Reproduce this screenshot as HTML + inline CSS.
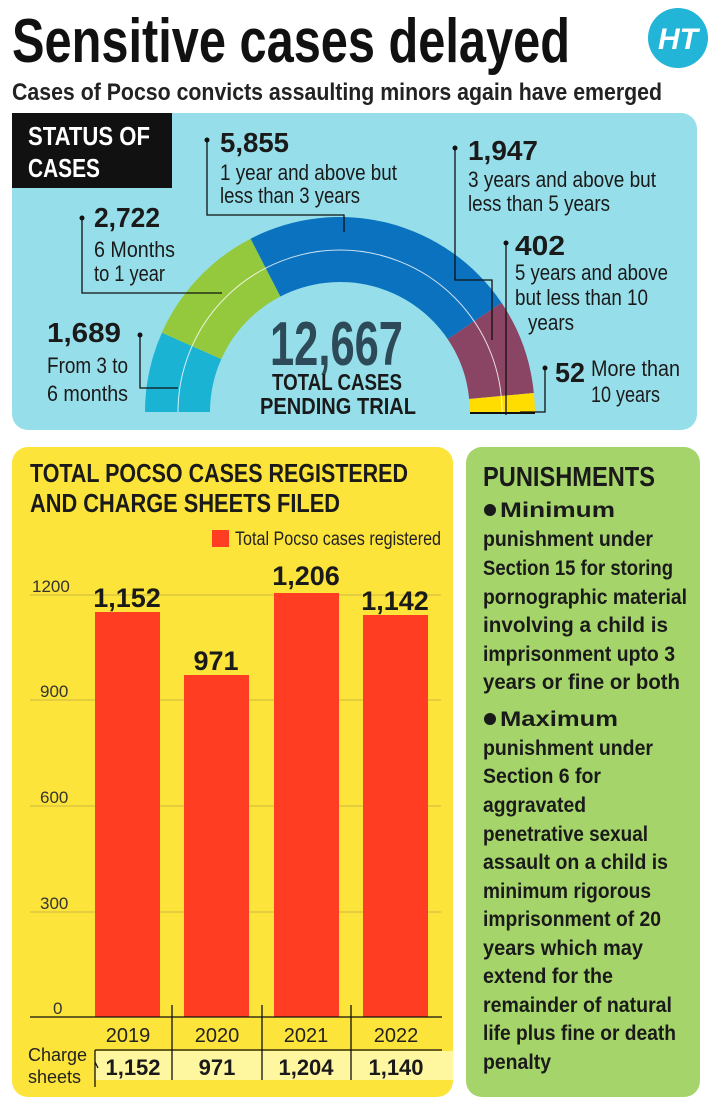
<!DOCTYPE html>
<html><head><meta charset="utf-8"><style>
html,body{margin:0;padding:0;background:#fff;}
svg{display:block;}
text{font-family:"Liberation Sans Narrow","Liberation Sans",sans-serif;}
.b{font-weight:bold;}
</style></head><body>
<svg width="709" height="1111" viewBox="0 0 709 1111" xmlns="http://www.w3.org/2000/svg">
<rect width="709" height="1111" fill="#fff"/>
<text x="12" y="62" class="b" font-size="62" textLength="558" lengthAdjust="spacingAndGlyphs" fill="#111">Sensitive cases delayed</text>
<text x="12" y="100" class="b" font-size="24" textLength="650" lengthAdjust="spacingAndGlyphs" fill="#222">Cases of Pocso convicts assaulting minors again have emerged</text>
<circle cx="678" cy="38" r="30" fill="#22b5d8"/>
<text x="678" y="49" text-anchor="middle" font-family="Liberation Serif,serif" font-style="italic" font-weight="bold" font-size="30" fill="#fff">HT</text>

<rect x="12" y="113" width="685" height="317" rx="16" fill="#96dfea"/>
<path d="M12 113 H172 V188 H12 Z" fill="#111"/>
<text x="28" y="145" class="b" font-size="26" textLength="122" lengthAdjust="spacingAndGlyphs" fill="#fff">STATUS OF</text>
<text x="28" y="177" class="b" font-size="26" textLength="72" lengthAdjust="spacingAndGlyphs" fill="#fff">CASES</text>

<g>
<path d="M145 412 A195 195 0 0 1 161.9 332.7 L221.3 359.1 A130 130 0 0 0 210 412 Z" fill="#1ab3d3"/>
<path d="M161.9 332.7 A195 195 0 0 1 250.6 238.7 L280.4 296.5 A130 130 0 0 0 221.3 359.1 Z" fill="#94c83d"/>
<path d="M250.6 238.7 A195 195 0 0 1 501.5 302.7 L447.7 339.1 A130 130 0 0 0 280.4 296.5 Z" fill="#0b72c0"/>
<path d="M501.5 302.7 A195 195 0 0 1 533.8 393 L469.2 399 A130 130 0 0 0 447.7 339.1 Z" fill="#8a4565"/>
<path d="M533.8 393 A195 195 0 0 1 535 412 L470 412 A130 130 0 0 0 469.2 399 Z" fill="#ffdd00"/>
<path d="M178 412 A162 162 0 0 1 502 412" fill="none" stroke="#fff" stroke-width="1" opacity="0.8"/>
<line x1="470" y1="413" x2="535" y2="413" stroke="#111" stroke-width="2"/>
</g>
<g stroke="#111" stroke-width="1.3" fill="none">
<path d="M207 140 V215 H344 V232"/>
<path d="M455 148 V280 H492 V340"/>
<path d="M506 243 V415"/>
<path d="M82 218 V293 H222"/>
<path d="M140 335 V388 H178"/>
<path d="M545 368 V412 H520"/>
</g>
<g fill="#111"><circle cx="207" cy="140" r="2.5"/><circle cx="455" cy="148" r="2.5"/><circle cx="506" cy="243" r="2.5"/><circle cx="82" cy="218" r="2.5"/><circle cx="140" cy="335" r="2.5"/><circle cx="545" cy="368" r="2.5"/></g>
<g fill="#1a1a1a">
<text x="220" y="152" class="b" font-size="28" textLength="69" lengthAdjust="spacingAndGlyphs">5,855</text>
<text x="220" y="180" font-size="22" textLength="177" lengthAdjust="spacingAndGlyphs">1 year and above but</text>
<text x="220" y="203" font-size="22" textLength="140" lengthAdjust="spacingAndGlyphs">less than 3 years</text>
<text x="468" y="160" class="b" font-size="28" textLength="70" lengthAdjust="spacingAndGlyphs">1,947</text>
<text x="468" y="187" font-size="22" textLength="188" lengthAdjust="spacingAndGlyphs">3 years and above but</text>
<text x="468" y="211" font-size="22" textLength="142" lengthAdjust="spacingAndGlyphs">less than 5 years</text>
<text x="515" y="255" class="b" font-size="28" textLength="50" lengthAdjust="spacingAndGlyphs">402</text>
<text x="515" y="280" font-size="22" textLength="153" lengthAdjust="spacingAndGlyphs">5 years and above</text>
<text x="515" y="305" font-size="22" textLength="133" lengthAdjust="spacingAndGlyphs">but less than 10</text>
<text x="528" y="330" font-size="22" textLength="46" lengthAdjust="spacingAndGlyphs">years</text>
<text x="94" y="227" class="b" font-size="28" textLength="66" lengthAdjust="spacingAndGlyphs">2,722</text>
<text x="94" y="257" font-size="22" textLength="81" lengthAdjust="spacingAndGlyphs">6 Months</text>
<text x="94" y="281" font-size="22" textLength="71" lengthAdjust="spacingAndGlyphs">to 1 year</text>
<text x="47" y="342" class="b" font-size="28" textLength="74" lengthAdjust="spacingAndGlyphs">1,689</text>
<text x="47" y="373" font-size="22" textLength="81" lengthAdjust="spacingAndGlyphs">From 3 to</text>
<text x="47" y="401" font-size="22" textLength="81" lengthAdjust="spacingAndGlyphs">6 months</text>
<text x="555" y="382" class="b" font-size="28" textLength="30" lengthAdjust="spacingAndGlyphs">52</text>
<text x="591" y="376" font-size="22" textLength="89" lengthAdjust="spacingAndGlyphs">More than</text>
<text x="591" y="402" font-size="22" textLength="69" lengthAdjust="spacingAndGlyphs">10 years</text>
<text x="270" y="365" class="b" font-size="62" textLength="133" lengthAdjust="spacingAndGlyphs" fill="#2c4a58">12,667</text>
<text x="272" y="390" class="b" font-size="23" textLength="130" lengthAdjust="spacingAndGlyphs">TOTAL CASES</text>
<text x="260" y="414" class="b" font-size="23" textLength="156" lengthAdjust="spacingAndGlyphs">PENDING TRIAL</text>
</g>

<rect x="12" y="447" width="441" height="650" rx="16" fill="#fde43a"/>
<text x="30" y="482" class="b" font-size="26" textLength="378" lengthAdjust="spacingAndGlyphs" fill="#1a1a1a">TOTAL POCSO CASES REGISTERED</text>
<text x="30" y="512" class="b" font-size="26" textLength="310" lengthAdjust="spacingAndGlyphs" fill="#1a1a1a">AND CHARGE SHEETS FILED</text>
<rect x="212" y="530" width="17" height="17" fill="#ff3d22"/>
<text x="235" y="545" font-size="19" textLength="206" lengthAdjust="spacingAndGlyphs" fill="#222">Total Pocso cases registered</text>
<g stroke="#b9a84a" stroke-width="0.8">
<line x1="30" y1="595" x2="441" y2="595"/>
<line x1="30" y1="700" x2="441" y2="700"/>
<line x1="30" y1="806" x2="441" y2="806"/>
<line x1="30" y1="912" x2="441" y2="912"/>
</g>
<g font-size="17" fill="#333">
<text x="32" y="592">1200</text><text x="40" y="697">900</text><text x="40" y="803">600</text><text x="40" y="909">300</text><text x="53" y="1014">0</text>
</g>
<g fill="#ff3d22">
<rect x="95" y="612" width="65" height="405"/>
<rect x="184" y="675" width="65" height="342"/>
<rect x="274" y="593" width="65" height="424"/>
<rect x="363" y="615" width="65" height="402"/>
</g>
<g class="b" font-size="27" fill="#1a1a1a" text-anchor="middle" font-weight="bold">
<text x="127" y="607">1,152</text><text x="216" y="670">971</text><text x="306" y="585">1,206</text><text x="395" y="610">1,142</text>
</g>
<rect x="95" y="1051" width="358" height="29" fill="#fff6a0"/>
<g stroke="#111" stroke-width="1.3">
<line x1="30" y1="1017" x2="442" y2="1017"/>
<line x1="95" y1="1050" x2="442" y2="1050"/>
<line x1="172" y1="1005" x2="172" y2="1080"/>
<line x1="262" y1="1005" x2="262" y2="1080"/>
<line x1="351" y1="1005" x2="351" y2="1080"/>
<path d="M95 1050 V1087 M95 1062 L98 1068" fill="none"/>
</g>
<g font-size="20" fill="#222" text-anchor="middle">
<text x="128" y="1042">2019</text><text x="217" y="1042">2020</text><text x="306" y="1042">2021</text><text x="396" y="1042">2022</text>
</g>
<text x="28" y="1061" font-size="18" fill="#222">Charge</text>
<text x="28" y="1083" font-size="18" fill="#222">sheets</text>
<g font-size="22" font-weight="bold" fill="#1a1a1a" text-anchor="middle">
<text x="133" y="1075">1,152</text><text x="217" y="1075">971</text><text x="306" y="1075">1,204</text><text x="396" y="1075">1,140</text>
</g>

<rect x="466" y="447" width="234" height="650" rx="16" fill="#a5d46a"/>
<circle cx="490" cy="510" r="6" fill="#1a1a1a"/>
<circle cx="490" cy="719" r="6" fill="#1a1a1a"/>
<g fill="#1a1a1a" font-weight="bold" font-size="21">
<text x="483" y="486" font-size="28" textLength="172" lengthAdjust="spacingAndGlyphs">PUNISHMENTS</text>
<text x="500" y="517" textLength="115" lengthAdjust="spacingAndGlyphs">Minimum</text>
<text x="483" y="546" textLength="170" lengthAdjust="spacingAndGlyphs">punishment under</text>
<text x="483" y="575" textLength="190" lengthAdjust="spacingAndGlyphs">Section 15 for storing</text>
<text x="483" y="604" textLength="204" lengthAdjust="spacingAndGlyphs">pornographic material</text>
<text x="483" y="632" textLength="185" lengthAdjust="spacingAndGlyphs">involving a child is</text>
<text x="483" y="661" textLength="192" lengthAdjust="spacingAndGlyphs">imprisonment upto 3</text>
<text x="483" y="689" textLength="197" lengthAdjust="spacingAndGlyphs">years or fine or both</text>
<text x="500" y="726" textLength="118" lengthAdjust="spacingAndGlyphs">Maximum</text>
<text x="483" y="755" textLength="170" lengthAdjust="spacingAndGlyphs">punishment under</text>
<text x="483" y="783" textLength="118" lengthAdjust="spacingAndGlyphs">Section 6 for</text>
<text x="483" y="812" textLength="103" lengthAdjust="spacingAndGlyphs">aggravated</text>
<text x="483" y="841" textLength="165" lengthAdjust="spacingAndGlyphs">penetrative sexual</text>
<text x="483" y="869" textLength="185" lengthAdjust="spacingAndGlyphs">assault on a child is</text>
<text x="483" y="898" textLength="168" lengthAdjust="spacingAndGlyphs">minimum rigorous</text>
<text x="483" y="926" textLength="178" lengthAdjust="spacingAndGlyphs">imprisonment of 20</text>
<text x="483" y="955" textLength="160" lengthAdjust="spacingAndGlyphs">years which may</text>
<text x="483" y="983" textLength="130" lengthAdjust="spacingAndGlyphs">extend for the</text>
<text x="483" y="1012" textLength="189" lengthAdjust="spacingAndGlyphs">remainder of natural</text>
<text x="483" y="1040" textLength="193" lengthAdjust="spacingAndGlyphs">life plus fine or death</text>
<text x="483" y="1069" textLength="68" lengthAdjust="spacingAndGlyphs">penalty</text>
</g>
</svg>
</body></html>
